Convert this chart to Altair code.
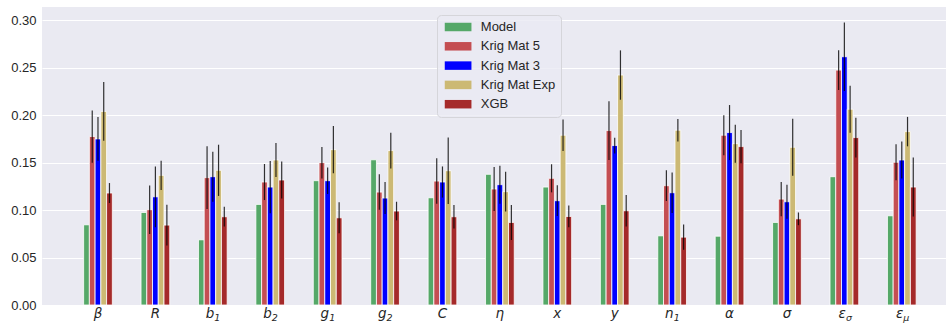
import altair as alt
import pandas as pd

# ---------------- data ----------------
params = ["β", "R", "b", "b", "g", "g", "C", "η", "x", "y", "n", "α", "σ", "ε", "ε"]
subs = ["", "", "1", "2", "1", "2", "", "", "", "", "1", "", "", "σ", "μ"]

series = ["Model", "Krig Mat 5", "Krig Mat 3", "Krig Mat Exp", "XGB"]
colors = ["#55A868", "#C44E52", "#0000FF", "#CCB974", "#A52A2A"]

model = [0.0845, 0.0975, 0.0687, 0.106, 0.131, 0.153, 0.113, 0.1377, 0.1243, 0.106,
         0.0729, 0.0725, 0.087, 0.1352, 0.094]
km5 = [0.1775, 0.1004, 0.1342, 0.1296, 0.150, 0.119, 0.1306, 0.1222, 0.1335, 0.1838,
       0.1257, 0.1789, 0.1116, 0.2475, 0.1504]
km5_err = [0.0275, 0.0255, 0.033, 0.019, 0.0166, 0.0187, 0.024, 0.0232, 0.0148, 0.031,
           0.0162, 0.021, 0.018, 0.021, 0.019]
km3 = [0.175, 0.114, 0.1352, 0.1243, 0.131, 0.1127, 0.1296, 0.1268, 0.1099, 0.168,
       0.1183, 0.1817, 0.1088, 0.2616, 0.1528]
km3_err = [0.023, 0.032, 0.0264, 0.0275, 0.014, 0.0169, 0.0164, 0.020, 0.0162, 0.0083,
           0.0213, 0.029, 0.018, 0.036, 0.0195]
kmexp = [0.204, 0.1366, 0.1419, 0.1528, 0.1637, 0.1627, 0.1415, 0.1194, 0.1789, 0.2423,
         0.1842, 0.170, 0.1662, 0.2063, 0.1827]
kmexp_err = [0.031, 0.0153, 0.027, 0.018, 0.025, 0.0188, 0.035, 0.021, 0.0165, 0.026,
             0.0118, 0.020, 0.030, 0.0247, 0.0155]
xgb = [0.118, 0.0842, 0.093, 0.1317, 0.0919, 0.099, 0.093, 0.087, 0.0933, 0.0993,
       0.0715, 0.1669, 0.0908, 0.1764, 0.1243]
xgb_err = [0.0105, 0.0215, 0.0104, 0.0194, 0.0164, 0.0098, 0.0125, 0.0185, 0.0115, 0.0167,
           0.0134, 0.0176, 0.0067, 0.021, 0.031]

y_ticks = [0.0, 0.05, 0.10, 0.15, 0.20, 0.25, 0.30]

# ---------------- tables ----------------
offsets = [-0.2, -0.1, 0.0, 0.1, 0.2]
bw = 0.1
all_vals = [model, km5, km3, kmexp, xgb]
all_errs = [None, km5_err, km3_err, kmexp_err, xgb_err]

rows = []
for si, name in enumerate(series):
    for i, v in enumerate(all_vals[si]):
        c = i + offsets[si]
        e = all_errs[si][i] if all_errs[si] is not None else None
        rows.append(dict(series=name, x0=c - bw / 2, x1=c + bw / 2, xc=c, value=v,
                         lo=(v - e) if e is not None else None,
                         hi=(v + e) if e is not None else None))
df = pd.DataFrame(rows)
df_err = df.dropna(subset=["lo"])

plain = pd.DataFrame([dict(pos=i, t=params[i]) for i in range(len(params)) if subs[i] == ""])
withsub = pd.DataFrame([dict(pos=i, t=params[i], s=subs[i]) for i in range(len(params)) if subs[i] != ""])

xscale = alt.Scale(domain=[-0.975, 14.77], nice=False, zero=False)
yscale = alt.Scale(domain=[0, 0.314], nice=False)

txt_color = "#262626"
label_font = "Liberation Sans"

bars = alt.Chart(df).mark_bar(stroke="white", strokeWidth=0.8).encode(
    x=alt.X("x0:Q", scale=xscale,
            axis=alt.Axis(values=list(range(15)), labels=False, ticks=False, domain=False,
                          grid=True, title=None)),
    x2="x1:Q",
    y=alt.Y("value:Q", scale=yscale,
            axis=alt.Axis(values=y_ticks, format=".2f", title=None, grid=True)),
    y2=alt.datum(0),
    color=alt.Color("series:N",
                    scale=alt.Scale(domain=series, range=colors),
                    legend=alt.Legend(orient="none", legendX=395, legendY=8, title=None,
                                      symbolType="M-3.14,-1L3.14,-1L3.14,1L-3.14,1Z",
                                      symbolSize=72.25, symbolOffset=9.1,
                                      symbolStrokeWidth=0, symbolOpacity=1,
                                      labelFont=label_font, labelFontSize=13,
                                      labelColor=txt_color, labelOffset=16.2,
                                      fillColor="rgba(234,234,242,0.8)",
                                      strokeColor="#D5D5DA",
                                      cornerRadius=4, padding=5.5, rowPadding=5.3)),
)

errs = alt.Chart(df_err).mark_rule(color="black", strokeWidth=1.2, opacity=0.8).encode(
    x=alt.X("xc:Q", scale=xscale, axis=None),
    y=alt.Y("lo:Q", scale=yscale),
    y2="hi:Q",
)

lab_plain = alt.Chart(plain).mark_text(
    align="center", baseline="alphabetic", dy=13.3, font="DejaVu Sans",
    fontStyle="italic", fontSize=13.5, color=txt_color,
).encode(x=alt.X("pos:Q", scale=xscale, axis=None), y=alt.value(298), text="t:N")

lab_main = alt.Chart(withsub).mark_text(
    align="right", baseline="alphabetic", dx=1.5, dy=13.3, font="DejaVu Sans",
    fontStyle="italic", fontSize=13.5, color=txt_color,
).encode(x=alt.X("pos:Q", scale=xscale, axis=None), y=alt.value(298), text="t:N")

lab_sub = alt.Chart(withsub).mark_text(
    align="left", baseline="alphabetic", dx=1.5, dy=16, font="DejaVu Sans",
    fontStyle="italic", fontSize=9.5, color=txt_color,
).encode(x=alt.X("pos:Q", scale=xscale, axis=None), y=alt.value(298), text="s:N")

chart = alt.layer(bars, errs, lab_plain, lab_main, lab_sub).properties(
    width=904, height=298,
    padding={"left": 42, "top": 7, "right": 1, "bottom": 20},
    autosize=alt.AutoSizeParams(type="none"),
    background="white",
).configure_view(
    fill="#EAEAF2", strokeWidth=0,
).configure_axis(
    gridColor="white", gridWidth=1.2, domain=False, ticks=False,
    labelFont=label_font, labelFontSize=13, labelColor=txt_color, labelPadding=6,
)

chart.save("out.html", embed_options={"renderer": "svg", "actions": False})
